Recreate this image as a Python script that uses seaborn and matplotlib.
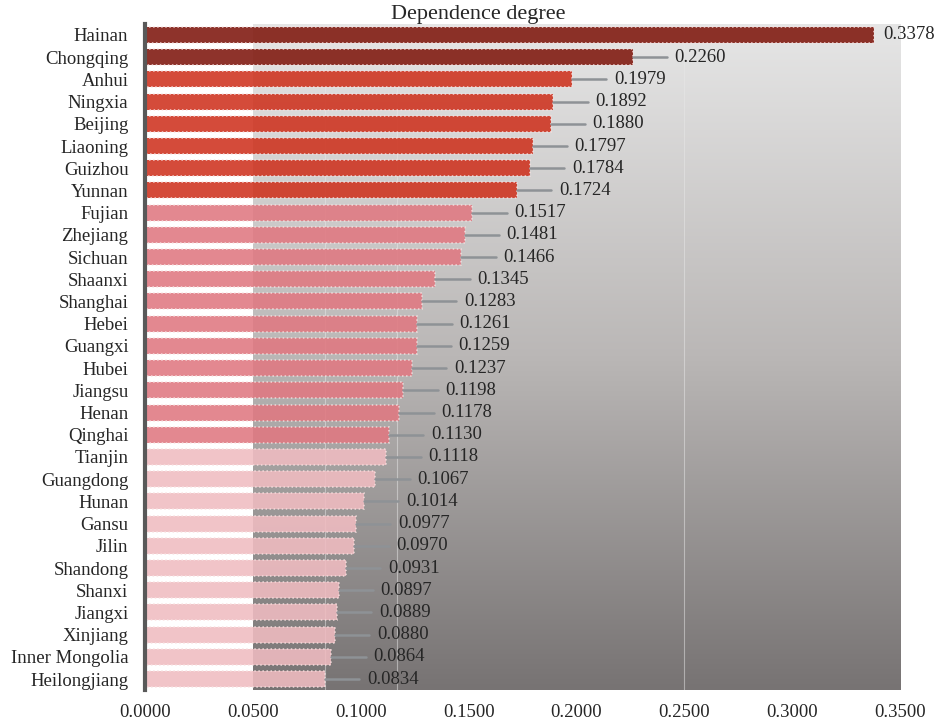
import numpy as np
import pandas as pd
import matplotlib
matplotlib.use("Agg")
import matplotlib.pyplot as plt
from matplotlib.colors import LinearSegmentedColormap
import seaborn as sns

provinces = ["Hainan", "Chongqing", "Anhui", "Ningxia", "Beijing", "Liaoning", "Guizhou",
             "Yunnan", "Fujian", "Zhejiang", "Sichuan", "Shaanxi", "Shanghai", "Hebei",
             "Guangxi", "Hubei", "Jiangsu", "Henan", "Qinghai", "Tianjin", "Guangdong",
             "Hunan", "Gansu", "Jilin", "Shandong", "Shanxi", "Jiangxi", "Xinjiang",
             "Inner Mongolia", "Heilongjiang"]
values = [0.3378, 0.2260, 0.1979, 0.1892, 0.1880, 0.1797, 0.1784, 0.1724, 0.1517, 0.1481,
          0.1466, 0.1345, 0.1283, 0.1261, 0.1259, 0.1237, 0.1198, 0.1178, 0.1130, 0.1118,
          0.1067, 0.1014, 0.0977, 0.0970, 0.0931, 0.0897, 0.0889, 0.0880, 0.0864, 0.0834]
tiers = ["top"] * 2 + ["high"] * 6 + ["mid"] * 11 + ["low"] * 11
tier_colors = {"top": "#7F170D", "high": "#CE321E", "mid": "#E07881", "low": "#F0BCC1"}
xticks = [0.0, 0.05, 0.10, 0.15, 0.20, 0.25, 0.30, 0.35]

df = pd.DataFrame({"province": provinces, "value": values, "tier": tiers})

sns.set_theme(style="white")
plt.rcParams["font.family"] = ["Liberation Serif", "DejaVu Serif"]

fig = plt.figure(figsize=(9.36, 7.22), dpi=100)
ax = fig.add_axes([0.155, 0.044, 0.8065, 0.923])

n = len(provinces)
# gradient background panel
cmap = LinearSegmentedColormap.from_list("bg", ["#e6e6e6", "#bab7b6", "#777373"])
grad = np.linspace(0, 1, 256).reshape(-1, 1)
ax.imshow(grad, cmap=cmap, aspect="auto", extent=[0.05, 0.35, n - 0.5, -0.5],
          zorder=0, interpolation="bicubic")
for gx in [0.05 + 0.3 / 9, 0.05 + 0.6 / 9, 0.05 + 1.8 / 9]:
    ax.axvline(gx, color="#e8e8e8", lw=0.8, alpha=0.5, zorder=0.5)

sns.barplot(data=df, x="value", y="province", hue="province",
            palette=[tier_colors[t] for t in tiers], legend=False,
            width=0.72, ax=ax, zorder=2, saturation=1)
for p in ax.patches:
    p.set_alpha(0.88)
    p.set_edgecolor("#f8e0e0")
    p.set_linestyle(":")
    p.set_linewidth(1.1)

fs = 13.5
vmax = max(values)
for i, v in enumerate(values):
    if v == vmax:
        ax.text(v + 0.0045, i, f"{v:.4f}", va="center", ha="left", fontsize=fs,
                color="#262626", zorder=4)
    else:
        ax.plot([v, v + 0.016], [i, i], color="#8e9296", lw=1.8, zorder=3)
        ax.text(v + 0.0195, i, f"{v:.4f}", va="center", ha="left", fontsize=fs,
                color="#262626", zorder=4)

ax.set_xlim(0, 0.35)
ax.set_ylim(n - 0.5, -0.5)
ax.set_xticks(xticks)
ax.set_xticklabels([f"{t:.4f}" for t in xticks], fontsize=fs, color="#262626")
ax.tick_params(axis="x", length=0, pad=10)
ax.tick_params(axis="y", length=0, pad=12, labelsize=fs, labelcolor="#262626")
ax.set_xlabel("")
ax.set_ylabel("")
for s in ["top", "right", "bottom"]:
    ax.spines[s].set_visible(False)
ax.spines["left"].set_color("#595959")
ax.spines["left"].set_linewidth(3)
ax.spines["left"].set_zorder(5)
ax.text(0.442, 1.0, "Dependence degree", transform=ax.transAxes, ha="center",
        va="bottom", fontsize=16, color="#262626")

fig.savefig("out.png", dpi=100)
